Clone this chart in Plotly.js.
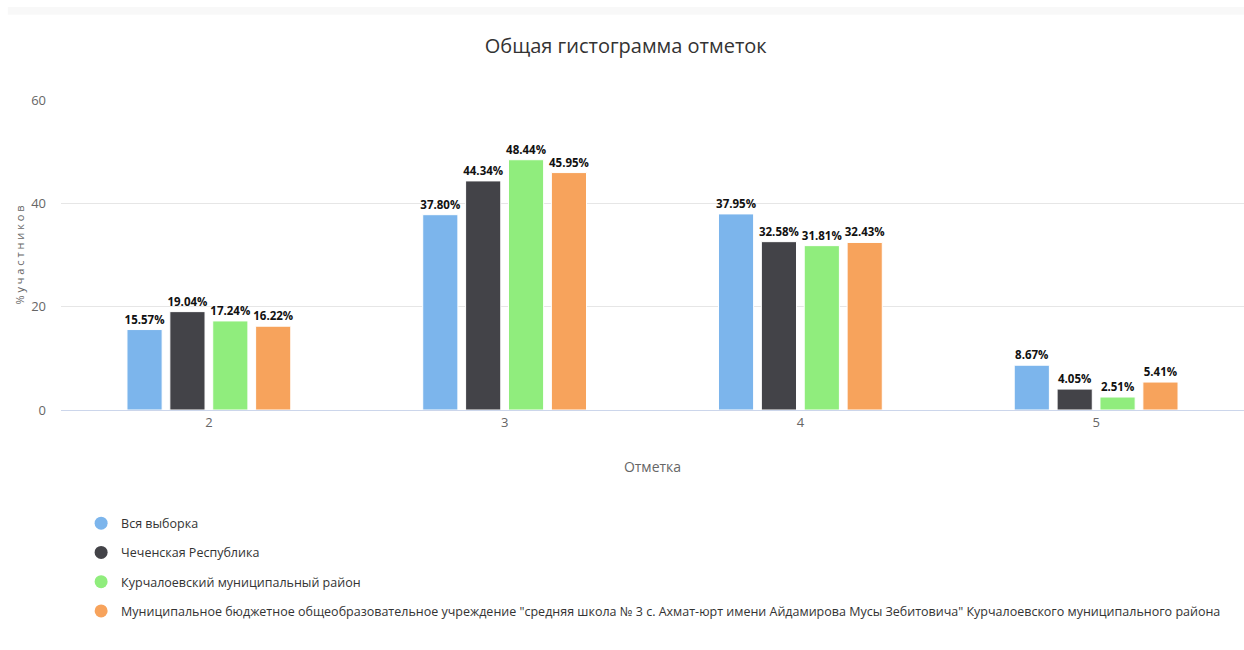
<!DOCTYPE html>
<html>
<head>
<meta charset="utf-8">
<script src="https://cdn.plot.ly/plotly-3.0.1.min.js"></script>
<style>
  html, body { margin: 0; padding: 0; background: #fff; }
  #myDiv { width: 1244px; height: 650px; }
</style>
</head>
<body>
<div id="myDiv"></div>
<script>
var marks = ['2', '3', '4', '5'];

var names = [
  'Вся выборка',
  'Чеченская Республика',
  'Курчалоевский муниципальный район',
  'Муниципальное бюджетное общеобразовательное учреждение "средняя школа № 3 с. Ахмат-юрт имени Айдамирова Мусы Зебитовича" Курчалоевского муниципального района'
];

var allSample = [15.57, 37.80, 37.95, 8.67];
var chechnya = [19.04, 44.34, 32.58, 4.05];
var kurchaloy = [17.24, 48.44, 31.81, 2.51];
var school = [16.22, 45.95, 32.43, 5.41];

var colors = ['#7cb5ec', '#434348', '#90ed7d', '#f7a35c'];
var series = [allSample, chechnya, kurchaloy, school];

var fnt = '"Open Sans", "Noto Sans", sans-serif';

var data = [];
series.forEach(function (vals, i) {
  data.push({
    x: marks,
    y: vals,
    name: names[i],
    type: 'bar',
    marker: { color: colors[i], line: { color: '#ffffff', width: 1 } },
    text: vals.map(function (v) { return v.toFixed(2) + '%'; }),
    textposition: 'outside',
    constraintext: 'none',
    textfont: { family: fnt, size: 11.5, color: '#111', weight: 'bold' },
    cliponaxis: false,
    showlegend: false,
    hoverinfo: 'x+y+name'
  });
});

// circle markers for the legend, like the original
series.forEach(function (vals, i) {
  data.push({
    x: [null],
    y: [null],
    name: names[i],
    type: 'scatter',
    mode: 'markers',
    legendgroup: 'g' + i,
    marker: { color: colors[i], size: 13, symbol: 'circle' },
    hoverinfo: 'skip'
  });
});

var layout = {
  width: 1244,
  height: 650,
  margin: { l: 61, r: 0, t: 100, b: 240, autoexpand: false },
  paper_bgcolor: '#ffffff',
  plot_bgcolor: '#ffffff',
  font: { family: fnt, color: '#666666' },
  title: {
    text: 'Общая гистограмма отметок',
    font: { family: fnt, size: 20, color: '#333333' },
    x: 0.503,
    xanchor: 'center',
    y: 0.93,
    yanchor: 'middle'
  },
  bargap: 0.42,
  bargroupgap: 0.18,
  xaxis: {
    type: 'category',
    title: { text: 'Отметка', font: { family: fnt, size: 14, color: '#666666' }, standoff: 32 },
    tickfont: { family: fnt, size: 13, color: '#666666' },
    showgrid: false,
    showline: true,
    linecolor: '#ccd6eb',
    linewidth: 1,
    ticks: '',
    fixedrange: true
  },
  yaxis: {
    range: [0, 60],
    tickvals: [0, 20, 40, 60],
    title: { text: '% у ч а с т н и к о в', font: { family: fnt, size: 11, color: '#666666' }, standoff: 4 },
    tickfont: { family: fnt, size: 13, color: '#666666' },
    gridcolor: '#e6e6e6',
    gridwidth: 1,
    zeroline: false,
    showline: false,
    ticks: '',
    ticklabelstandoff: 14,
    fixedrange: true
  },
  legend: {
    x: 0.017,
    y: -0.318,
    xanchor: 'left',
    yanchor: 'top',
    orientation: 'v',
    traceorder: 'grouped',
    tracegroupgap: 10,
    font: { family: fnt, size: 12.5, color: '#333333' },
    itemwidth: 30,
    bgcolor: 'rgba(0,0,0,0)'
  },
  shapes: [{
    type: 'rect', xref: 'paper', yref: 'paper',
    x0: -0.045, x1: 1, y0: 1.3, y1: 1.275,
    fillcolor: '#f8f8f8', line: { width: 0 }, layer: 'below'
  }]
};

Plotly.newPlot('myDiv', data, layout, { displayModeBar: false });
</script>
</body>
</html>
